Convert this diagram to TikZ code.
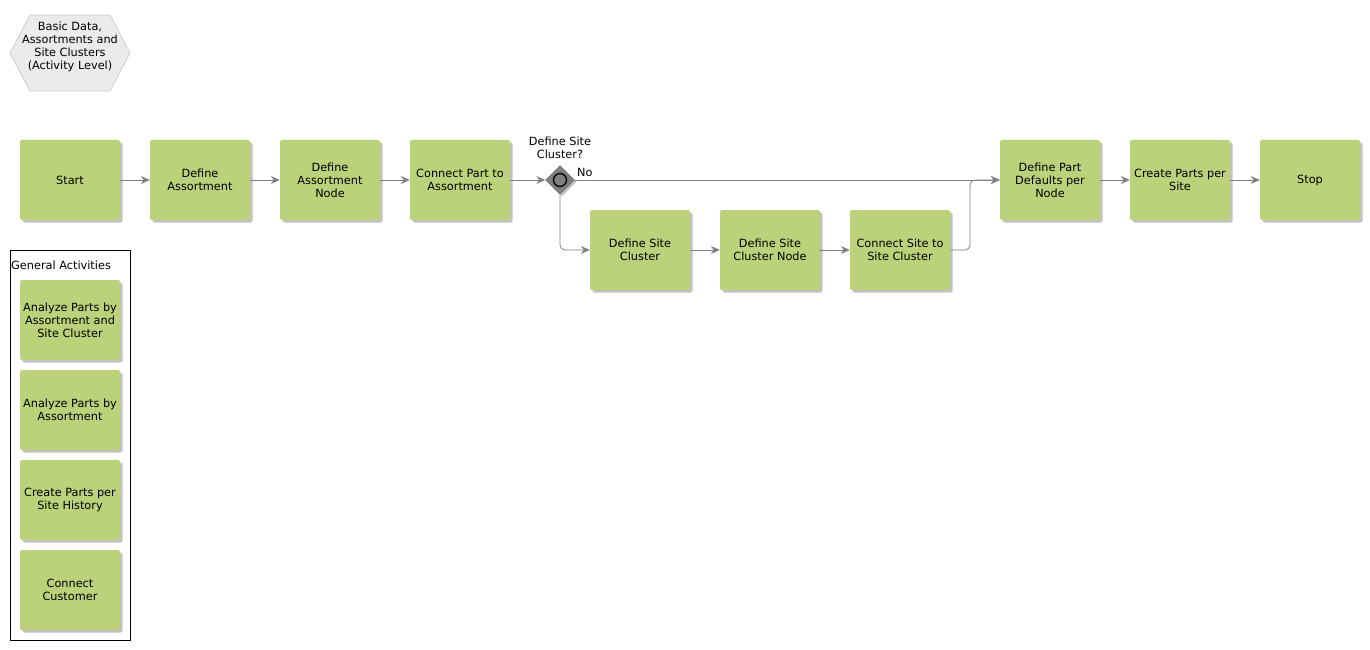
\documentclass[tikz,border=0pt]{standalone}
\usepackage{fontspec}
\setmainfont{DejaVu Sans}
\usetikzlibrary{shapes.geometric, arrows.meta, positioning, shadows, backgrounds}
\definecolor{actgreen}{RGB}{187,210,122}
\definecolor{flowgray}{RGB}{128,128,128}
\definecolor{hexfill}{RGB}{235,235,235}
\definecolor{hexline}{RGB}{205,205,205}

\begin{document}
\begin{tikzpicture}[x=1pt, y=-1pt,
    every node/.style={font=\fontsize{11.3}{13}\selectfont},
    activity/.style={rectangle, rounded corners=2pt, minimum width=100pt, minimum height=80pt, inner sep=1pt, text centered, align=center, fill=actgreen, drop shadow={shadow xshift=2.5pt, shadow yshift=-2.5pt, fill=black!40, opacity=0.6}},
    gateway/.style={diamond, minimum width=29pt, minimum height=29pt, inner sep=0pt, fill=flowgray, draw=black!60, drop shadow={shadow xshift=2pt, shadow yshift=-2pt, fill=black!45, opacity=0.5}},
    flow/.style={-{Stealth[length=9pt, width=8pt]}, draw=flowgray, line width=0.8pt},
    note/.style={align=center, inner sep=1pt}
]
    \useasboundingbox (0,0) rectangle (1370,650);

    % Level
    \filldraw[fill=hexfill, draw=hexline, line width=0.8pt] (10,53) -- (30,15) -- (110,15) -- (130,53) -- (110,91) -- (30,91) -- cycle;
    \node[note] (level) at (70,47) {Basic Data,\\Assortments and\\Site Clusters\\(Activity Level)};

    % Main flow
    \node[activity] (start) at (70,180) {Start};
    \node[activity] (assortment) at (200,180) {Define\\Assortment};
    \node[activity] (asnode) at (330,180) {Define\\Assortment\\Node};
    \node[activity] (connect) at (460,180) {Connect Part to\\Assortment};
    \node[gateway] (gate) at (560,180) {};
    \draw[black, fill=flowgray, line width=1.3pt] (gate) circle (6.5pt);
    \node[note, above=5pt of gate] (question) {Define Site\\Cluster?};
    \node[note, anchor=west] (no) at (576,172) {No};
    \node[activity] (partdef) at (1050,180) {Define Part\\Defaults per\\Node};
    \node[activity] (partsite) at (1180,180) {Create Parts per\\Site};
    \node[activity] (stop) at (1310,180) {Stop};

    % Site cluster branch
    \node[activity] (cluster) at (640,250) {Define Site\\Cluster};
    \node[activity] (clnode) at (770,250) {Define Site\\Cluster Node};
    \node[activity] (siteconn) at (900,250) {Connect Site to\\Site Cluster};
    \coordinate (merge) at (970,180);

    \draw[flow] (start) -- (assortment);
    \draw[flow] (assortment) -- (asnode);
    \draw[flow] (asnode) -- (connect);
    \draw[flow] (connect) -- (gate);
    \draw[flow] (gate) -- (partdef);
    \draw[flow, rounded corners=5pt] (gate.south) |- (cluster.west);
    \draw[flow] (cluster) -- (clnode);
    \draw[flow] (clnode) -- (siteconn);
    \draw[flow, rounded corners=5pt] (siteconn.east) -| (merge) -- (partdef.west);
    \draw[flow] (partdef) -- (partsite);
    \draw[flow] (partsite) -- (stop);

    % General activities
    \node[draw, line width=0.7pt, minimum width=120pt, minimum height=390pt, inner sep=0pt] (general) at (70,445) {};
    \node[note, anchor=west] (gentitle) at (10,265) {General Activities};
    \node[activity] (anaboth) at (70,320) {Analyze Parts by\\Assortment and\\Site Cluster};
    \node[activity] (anaass) at (70,410) {Analyze Parts by\\Assortment};
    \node[activity] (history) at (70,500) {Create Parts per\\Site History};
    \node[activity] (customer) at (70,590) {Connect\\Customer};

\end{tikzpicture}
\end{document}
